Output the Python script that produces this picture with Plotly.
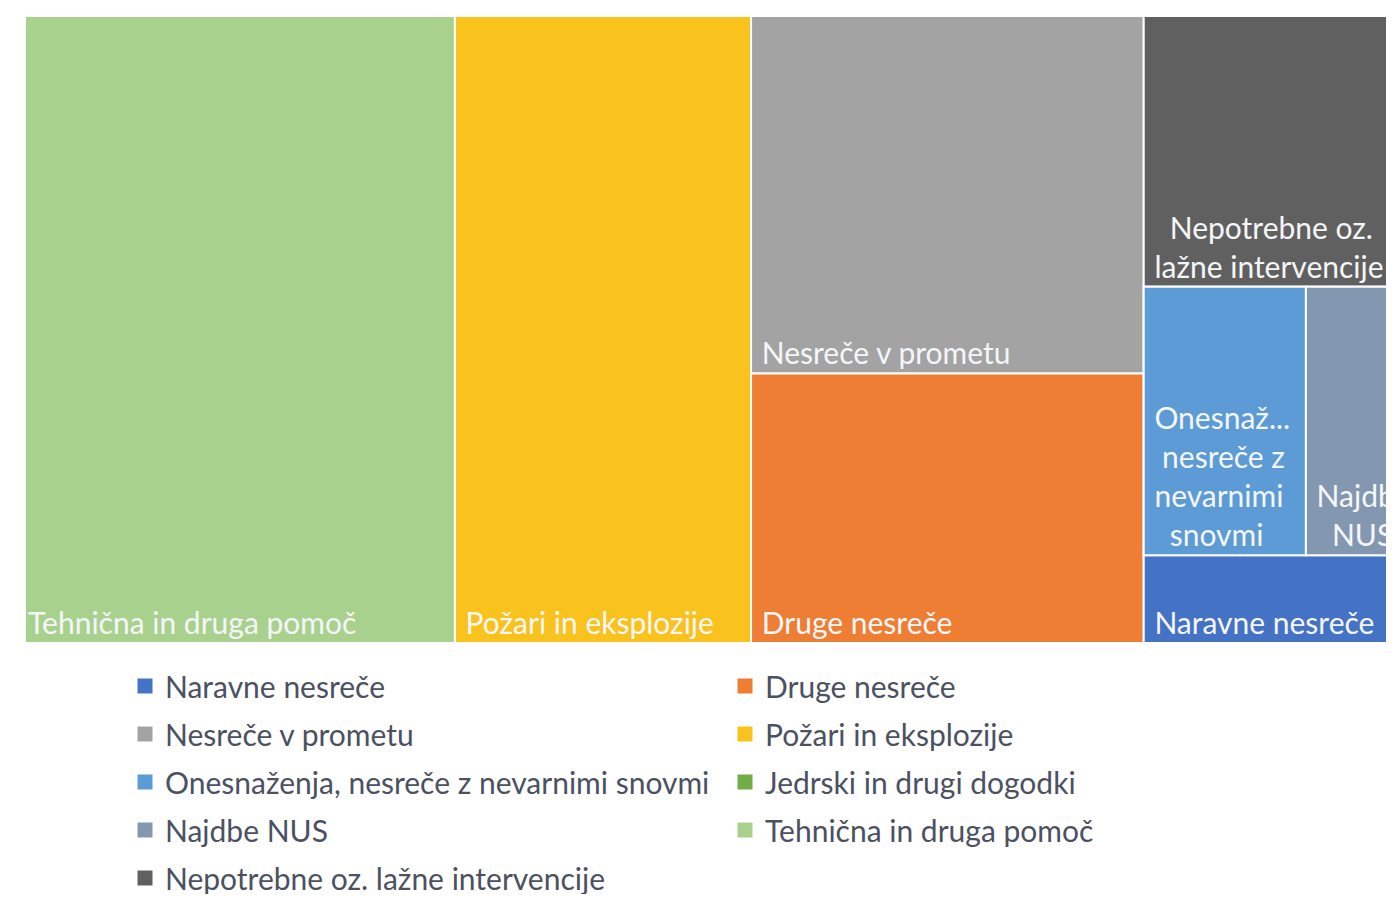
import plotly.graph_objects as go

# ---- data (estimated values) ----
categories = [
    "Tehnična in druga pomoč",
    "Požari in eksplozije",
    "Nesreče v prometu",
    "Druge nesreče",
    "Nepotrebne oz. lažne intervencije",
    "Onesnaženja, nesreče z nevarnimi snovmi",
    "Najdbe NUS",
    "Naravne nesreče",
    "Jedrski in drugi dogodki",
]
values = [13500, 9300, 7030, 5300, 3300, 2180, 1090, 1070, 0]
# grouping used only to mimic the spreadsheet's tile arrangement
groups = ["", "", "g3", "g3", "g4", "g4r", "g4r", "g4", ""]
# text shown inside the tiles (wrapped like in the original)
tile_lines = [
    ["Tehnična in druga pomoč"],
    ["Požari in eksplozije"],
    ["Nesreče v prometu"],
    ["Druge nesreče"],
    ["Nepotrebne oz.", "lažne intervencije"],
    ["Onesnaž...", "nesreče z", "nevarnimi", "snovmi"],
    ["Najdbe", "NUS"],
    ["Naravne nesreče"],
    [],
]
# leading indent (in non-breaking spaces) of each tile line
tile_indent = [
    [0], [1], [1], [1], [3, 1], [1, 2, 1, 3], [1, 3], [1], [],
]
colors = ["#A9D18E", "#F9C21C", "#A3A3A3", "#EE7E33", "#606060",
          "#5C9BD5", "#8497B0", "#4472C4", "#70AD47"]

legend1_order = ["Naravne nesreče", "Nesreče v prometu",
                 "Onesnaženja, nesreče z nevarnimi snovmi", "Najdbe NUS",
                 "Nepotrebne oz. lažne intervencije"]
legend2_order = ["Druge nesreče", "Požari in eksplozije",
                 "Jedrski in drugi dogodki", "Tehnična in druga pomoč"]

group_nodes = {"g3": "", "g4": "", "g4r": "g4"}

FONT = "Lato"
FS = 30
W, H = 1379, 886   # page body keeps an 8px margin: 1379+16 = 1395, 886+16 = 902
OFF = 8

def px_x(p):
    return (p - OFF) / W

def px_y(p):
    return 1 - (p - OFF) / H

# ---- build treemap hierarchy ----
ids, labels, parents, vals, cols, texts = [], [], [], [], [], []

def add_leaf(i):
    ids.append("c%d" % i)
    labels.append(categories[i])
    parents.append(groups[i])
    vals.append(values[i])
    cols.append(colors[i])
    texts.append("<br>".join("\u00a0" * k + s for s, k in zip(tile_lines[i], tile_indent[i])))

def add_group(g):
    ids.append(g)
    labels.append("")
    parents.append(group_nodes[g])
    vals.append(0)
    cols.append("#FFFFFF")
    texts.append("")

add_leaf(0)
add_leaf(1)
add_group("g3")
add_leaf(2)
add_leaf(3)
add_group("g4")
add_leaf(4)
add_group("g4r")
add_leaf(5)
add_leaf(6)
add_leaf(7)

fig = go.Figure()
fig.add_trace(go.Treemap(
    ids=ids, labels=labels, parents=parents, values=vals,
    text=texts, texttemplate="%{text}",
    textposition="bottom left",
    textfont=dict(family=FONT, size=FS, color="#F4F6F8"),
    marker=dict(colors=cols, line=dict(color="white", width=2),
                pad=dict(t=0, l=0, r=0, b=0)),
    tiling=dict(packing="slice-dice", pad=0),
    pathbar=dict(visible=False),
    sort=False,
    hoverinfo="label+value",
    domain=dict(x=[px_x(25), 1.0], y=[px_y(643), px_y(16)]),
))

for name in legend1_order:
    i = categories.index(name)
    fig.add_trace(go.Scatter(x=[None], y=[None], mode="markers", name=name,
                             marker=dict(symbol="square", size=15, color=colors[i]),
                             legend="legend", legendgroup=name))
for name in legend2_order:
    i = categories.index(name)
    fig.add_trace(go.Scatter(x=[None], y=[None], mode="markers", name=name,
                             marker=dict(symbol="square", size=15, color=colors[i]),
                             legend="legend2", legendgroup=name))

leg_common = dict(font=dict(family=FONT, size=FS, color="#4B5162"),
                  bgcolor="rgba(0,0,0,0)", tracegroupgap=6,
                  xanchor="left", yanchor="top", orientation="v")
fig.update_layout(
    width=W, height=H,
    margin=dict(l=0, r=0, t=0, b=0, autoexpand=False),
    paper_bgcolor="white", plot_bgcolor="white",
    uniformtext=dict(minsize=FS, mode="show"),
    xaxis=dict(visible=False), yaxis=dict(visible=False),
    legend=dict(x=px_x(125), y=px_y(660), **leg_common),
    legend2=dict(x=px_x(725), y=px_y(660), **leg_common),
)

fig.write_html("out.html")
